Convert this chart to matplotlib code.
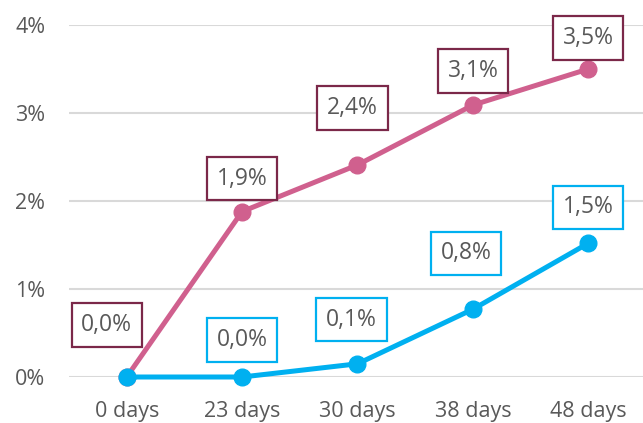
import numpy as np
import matplotlib.pyplot as plt

# data
categories = ['0 days', '23 days', '30 days', '38 days', '48 days']
pink_vals = [0.0, 1.88, 2.41, 3.09, 3.50]
blue_vals = [0.0, 0.0, 0.15, 0.77, 1.52]
y_ticks = [0, 1, 2, 3, 4]

# label offsets (pixels, dx, dy) relative to each point
pink_offsets = [(-20, 52), (0, 33), (-5, 57), (0, 34), (0, 31)]
blue_offsets = [(0, 0), (0, 37), (-6, 44), (-7, 56), (0, 36)]

pink = '#D0608E'
pink_edge = '#7B2849'
blue = '#00B0F0'
text_col = '#595959'

plt.rcParams['font.family'] = ['Open Sans', 'DejaVu Sans']

fig = plt.figure(figsize=(6.43, 4.23), dpi=100)
ax = fig.add_axes([69 / 643, 46 / 423, 577 / 643, 352 / 423])

x = np.arange(len(categories))
ax.plot(x, pink_vals, color=pink, lw=3.6, marker='o', ms=12, clip_on=False, zorder=3)
ax.plot(x, blue_vals, color=blue, lw=3.6, marker='o', ms=12, clip_on=False, zorder=4)


def fmt(v):
    return f'{v:.1f}%'.replace('.', ',')


def add_labels(vals, offsets, edge, skip_first=False):
    for i, (v, off) in enumerate(zip(vals, offsets)):
        if skip_first and i == 0:
            continue
        ax.annotate(fmt(v), (x[i], v), xytext=off, textcoords='offset pixels',
                    ha='center', va='center', fontsize=16.5, color=text_col,
                    annotation_clip=False, zorder=5,
                    bbox=dict(boxstyle='square,pad=0.42', fc='white', ec=edge, lw=1.6))


add_labels(pink_vals, pink_offsets, pink_edge)
add_labels(blue_vals, blue_offsets, blue, skip_first=True)

ax.set_xlim(-0.5, len(categories) - 0.5)
ax.set_ylim(0, 4)
ax.set_xticks(x)
ax.set_xticklabels(categories)
ax.set_yticks(y_ticks)
ax.set_yticklabels([f'{t}%' for t in y_ticks])
ax.tick_params(axis='both', length=0, labelsize=15.5, labelcolor=text_col)
ax.tick_params(axis='y', pad=17)
ax.tick_params(axis='x', pad=17)
ax.grid(axis='y', color='#D9D9D9', lw=1.5)
ax.set_axisbelow(True)
for s in ax.spines.values():
    s.set_visible(False)

fig.savefig('out.png', dpi=100)
